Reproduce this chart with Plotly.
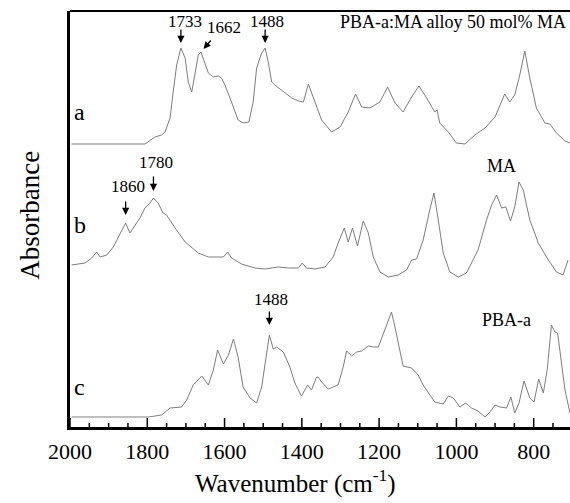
import numpy as np
import plotly.graph_objects as go

# ---- data (wavenumber in cm^-1, absorbance in a.u., spectra stacked) ----
wn_a = [1996, 1900, 1806, 1780, 1763, 1754, 1741, 1733, 1724, 1713, 1702, 1694, 1685, 1677, 1668, 1661,
        1653, 1642, 1629, 1616, 1608, 1599, 1582, 1565, 1552, 1537, 1526, 1517, 1504, 1495, 1487, 1478,
        1470, 1452, 1444, 1426, 1409, 1396, 1383, 1370, 1366, 1349, 1323, 1301, 1280, 1261, 1245, 1224,
        1198, 1178, 1159, 1138, 1116, 1097, 1077, 1056, 1050, 1043, 1021, 1000, 978, 952, 926, 900,
        875, 862, 849, 836, 823, 810, 793, 771, 758, 741, 719, 706]
abs_a = [2.83, 2.83, 2.83, 2.90, 2.92, 2.95, 3.09, 3.35, 3.62, 3.79, 3.69, 3.45, 3.35, 3.52, 3.72, 3.75,
         3.67, 3.54, 3.50, 3.51, 3.49, 3.42, 3.25, 3.07, 3.04, 3.05, 3.25, 3.59, 3.74, 3.79, 3.65, 3.45,
         3.42, 3.37, 3.34, 3.29, 3.26, 3.25, 3.43, 3.29, 3.24, 3.07, 2.95, 3.00, 3.15, 3.33, 3.20, 3.19,
         3.25, 3.40, 3.24, 3.15, 3.30, 3.41, 3.29, 3.15, 3.17, 3.04, 2.95, 2.84, 2.83, 2.92, 2.99, 3.10,
         3.33, 3.25, 3.32, 3.52, 3.76, 3.49, 3.19, 3.04, 3.03, 2.94, 2.86, 2.84]

wn_b = [1996, 1979, 1961, 1944, 1931, 1922, 1905, 1888, 1871, 1856, 1845, 1836, 1819, 1806, 1793, 1784,
        1772, 1759, 1750, 1728, 1702, 1668, 1642, 1616, 1603, 1592, 1582, 1556, 1521, 1495, 1461, 1435,
        1409, 1399, 1388, 1366, 1340, 1319, 1306, 1290, 1280, 1269, 1256, 1241, 1228, 1215, 1198, 1176,
        1151, 1129, 1116, 1103, 1086, 1069, 1058, 1047, 1034, 1017, 995, 974, 959, 944, 922, 909,
        896, 883, 872, 860, 849, 838, 827, 810, 788, 762, 741, 724, 711]
abs_b = [1.62, 1.63, 1.64, 1.69, 1.75, 1.70, 1.72, 1.80, 1.92, 2.04, 1.94, 1.99, 2.09, 2.19, 2.24, 2.29,
         2.24, 2.14, 2.12, 1.99, 1.85, 1.74, 1.70, 1.70, 1.70, 1.75, 1.69, 1.63, 1.59, 1.58, 1.60, 1.59,
         1.59, 1.64, 1.59, 1.58, 1.60, 1.70, 1.84, 1.99, 1.85, 1.99, 1.81, 2.06, 1.94, 1.70, 1.55, 1.50,
         1.52, 1.57, 1.67, 1.68, 1.87, 2.17, 2.34, 2.07, 1.74, 1.55, 1.50, 1.54, 1.65, 1.77, 2.07, 2.22,
         2.32, 2.19, 2.20, 2.06, 2.20, 2.45, 2.37, 2.07, 1.84, 1.67, 1.55, 1.52, 1.67]

wn_c = [1996, 1858, 1797, 1763, 1741, 1711, 1698, 1681, 1659, 1642, 1629, 1618, 1603, 1590, 1577, 1565,
        1552, 1534, 1517, 1504, 1491, 1484, 1474, 1465, 1448, 1431, 1418, 1401, 1385, 1375, 1362, 1358,
        1349, 1332, 1306, 1293, 1284, 1271, 1258, 1245, 1228, 1215, 1202, 1185, 1175, 1168, 1159, 1146,
        1138, 1116, 1099, 1086, 1073, 1056, 1034, 1021, 1008, 991, 976, 961, 944, 926, 913, 900,
        887, 870, 859, 849, 838, 825, 810, 799, 787, 775, 765, 754, 745, 738, 730, 719, 706]
abs_c = [0.10, 0.10, 0.10, 0.12, 0.19, 0.20, 0.27, 0.42, 0.51, 0.42, 0.57, 0.77, 0.63, 0.72, 0.88, 0.70,
         0.40, 0.29, 0.24, 0.40, 0.74, 0.92, 0.78, 0.80, 0.75, 0.60, 0.44, 0.31, 0.42, 0.37, 0.50, 0.50,
         0.45, 0.38, 0.42, 0.60, 0.76, 0.71, 0.75, 0.76, 0.81, 0.80, 0.80, 0.97, 1.07, 1.15, 1.00, 0.74,
         0.61, 0.59, 0.52, 0.42, 0.35, 0.25, 0.23, 0.31, 0.29, 0.20, 0.24, 0.19, 0.16, 0.10, 0.15, 0.22,
         0.20, 0.19, 0.30, 0.14, 0.24, 0.46, 0.29, 0.25, 0.48, 0.34, 0.57, 1.02, 0.95, 0.94, 0.70, 0.37, 0.14]

x_tick_vals = [2000, 1800, 1600, 1400, 1200, 1000, 800]
x_tick_text = ["2000", "1800", "1600", "1400", "1200", "1000", "800"]
x_minor_step = 50

curve_labels = ["a", "b", "c"]
curve_names = ["PBA-a:MA alloy 50 mol% MA", "MA", "PBA-a"]

# peak markers: (label text, spectrum index, wavenumber where arrow points)
peak_labels = ["1733", "1662", "1488", "1860", "1780", "1488"]
peak_curve = [0, 0, 0, 1, 1, 2]
peak_wn = [1713, 1661, 1495, 1856, 1784, 1484]

# ---- figure ----
SERIF = "Liberation Serif, Times New Roman, serif"
LINE = "rgb(125,125,125)"
X_RANGE = [2000, 706]
spectra = [(wn_a, abs_a), (wn_b, abs_b), (wn_c, abs_c)]

fig = go.Figure()
for (wx, ay_), name in zip(spectra, curve_names):
    fig.add_trace(go.Scatter(x=wx, y=ay_, mode="lines", name=name,
                             line=dict(color=LINE, width=1), showlegend=False))
# invisible copy carrying the label-only overlay axis
fig.add_trace(go.Scatter(x=wn_c, y=abs_c, xaxis="x2", yaxis="y", mode="lines",
                         line=dict(color="rgba(0,0,0,0)", width=0), showlegend=False,
                         hoverinfo="skip"))

# inward tick marks on the bottom axis (major every 200, minor every 50), as pixel-sized shapes
lo, hi = min(X_RANGE), max(X_RANGE)
minor_vals = [v for v in range(0, 2001, x_minor_step) if lo <= v <= hi]
for v in minor_vals:
    tlen = 9 if v in x_tick_vals else 4
    fig.add_shape(type="line", xref="x", yref="paper", x0=v, x1=v,
                  ysizemode="pixel", yanchor=0, y0=0, y1=tlen,
                  line=dict(color="black", width=1.5), layer="above")

# arrow geometry (pixels): tail offset, gap (standoff), text offsets
arrow_geo = {
    0: dict(ax=0, ay=-20, standoff=5, tx=4, ty=27),
    1: dict(ax=11, ay=-13, standoff=4, tx=23, ty=25),
    2: dict(ax=0, ay=-20, standoff=5, tx=2, ty=27),
    3: dict(ax=0, ay=-23, standoff=8, tx=2, ty=37),
    4: dict(ax=0, ay=-23, standoff=7, tx=3, ty=36),
    5: dict(ax=0, ay=-25, standoff=10, tx=2, ty=36),
}
for i, (txt, ci, w) in enumerate(zip(peak_labels, peak_curve, peak_wn)):
    wx, ay_ = spectra[ci]
    yv = float(np.interp(-w, -np.array(wx), np.array(ay_)))
    g = arrow_geo[i]
    fig.add_annotation(x=w, y=yv, xref="x", yref="y", text="", showarrow=True,
                       ax=g["ax"], ay=g["ay"], standoff=g["standoff"],
                       arrowhead=2, arrowsize=1.1, arrowwidth=1.3, arrowcolor="black")
    fig.add_annotation(x=w, y=yv, xref="x", yref="y", text=txt, showarrow=False,
                       xshift=g["tx"], yshift=g["ty"], xanchor="center", yanchor="middle",
                       font=dict(family=SERIF, size=17, color="black"))

# curve letters
for lab, yp in zip(curve_labels, [0.758, 0.486, 0.095]):
    fig.add_annotation(x=0.004, y=yp, xref="paper", yref="paper", text=lab, showarrow=False,
                       xanchor="left", yanchor="middle",
                       font=dict(family=SERIF, size=24, color="black"))

# sample names
fig.add_annotation(x=0.996, y=0.9736, xref="paper", yref="paper", text=curve_names[0],
                   showarrow=False, xanchor="right", yanchor="middle",
                   font=dict(family=SERIF, size=18, color="black"))
fig.add_annotation(x=0.863, y=0.627, xref="paper", yref="paper", text=curve_names[1],
                   showarrow=False, xanchor="center", yanchor="middle",
                   font=dict(family=SERIF, size=18, color="black"))
fig.add_annotation(x=0.873, y=0.257, xref="paper", yref="paper", text=curve_names[2],
                   showarrow=False, xanchor="center", yanchor="middle",
                   font=dict(family=SERIF, size=18, color="black"))

# axis titles
fig.add_annotation(x=-0.08, y=0.508, xref="paper", yref="paper", text="Absorbance",
                   showarrow=False, textangle=-90, xanchor="center", yanchor="middle",
                   font=dict(family=SERIF, size=27, color="black"))
fig.add_annotation(x=0.45, y=-0.132, xref="paper", yref="paper", text="Wavenumber (cm<sup>-1</sup>)",
                   showarrow=False, xanchor="center", yanchor="middle",
                   font=dict(family=SERIF, size=25, color="black"))

# top frame line
fig.add_shape(type="line", xref="paper", yref="paper", x0=0, x1=1, y0=1, y1=1,
              line=dict(color="black", width=2))

fig.update_layout(
    width=570, height=503,
    margin=dict(l=70, r=0, t=11, b=76),
    paper_bgcolor="white", plot_bgcolor="white",
    xaxis=dict(range=X_RANGE, showticklabels=False, ticks="",
               showline=True, linecolor="black", linewidth=2.5, showgrid=False, zeroline=False),
    xaxis2=dict(range=X_RANGE, overlaying="x", anchor="y", side="bottom",
                tickmode="array", tickvals=x_tick_vals, ticktext=x_tick_text, ticks="",
                tickfont=dict(family=SERIF, size=22, color="black"), ticklabelstandoff=9,
                showline=False, showgrid=False, zeroline=False),
    yaxis=dict(range=[0, 4.16], showticklabels=False, ticks="", showgrid=False, zeroline=False,
               showline=True, linecolor="black", linewidth=2.5),
)

fig.write_html("out.html", config={"displayModeBar": False},
               post_script="document.body.style.margin='0';document.body.style.overflow='hidden';")
